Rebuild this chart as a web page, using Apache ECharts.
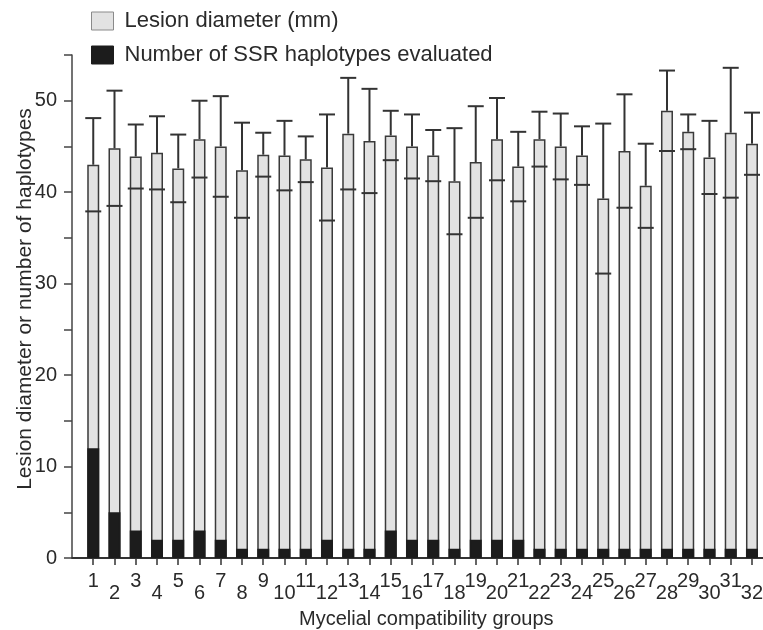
<!DOCTYPE html>
<html>
<head>
<meta charset="utf-8">
<script src="https://cdn.jsdelivr.net/npm/echarts@6/dist/echarts.min.js"></script>
<style>
  html, body { margin: 0; padding: 0; background: #fff; }
  #chart { width: 763px; height: 630px; }
</style>
</head>
<body>
<div id="chart"></div>
<script>
// Mycelial compatibility groups (x categories)
const groups = ['1','2','3','4','5','6','7','8','9','10','11','12','13','14','15','16',
                '17','18','19','20','21','22','23','24','25','26','27','28','29','30','31','32'];

// Mean lesion diameter (mm) per group
const lesionMean = [43.0, 44.8, 43.9, 44.3, 42.6, 45.8, 45.0, 42.4, 44.1, 44.0, 43.6, 42.7,
                    46.4, 45.6, 46.2, 45.0, 44.0, 41.2, 43.3, 45.8, 42.8, 45.8, 45.0, 44.0,
                    39.3, 44.5, 40.7, 48.9, 46.6, 43.8, 46.5, 45.3];

// Standard deviation of lesion diameter (error bars)
const lesionSd = [5.1, 6.3, 3.5, 4.0, 3.7, 4.2, 5.5, 5.2, 2.4, 3.8, 2.5, 5.8,
                  6.1, 5.7, 2.7, 3.5, 2.8, 5.8, 6.1, 4.5, 3.8, 3.0, 3.6, 3.2,
                  8.2, 6.2, 4.6, 4.4, 1.9, 4.0, 7.1, 3.4];

// Number of SSR haplotypes evaluated per group
const haplotypes = [12, 5, 3, 2, 2, 3, 2, 1, 1, 1, 1, 2, 1, 1, 3, 2,
                    2, 1, 2, 2, 2, 1, 1, 1, 1, 1, 1, 1, 1, 1, 1, 1];

// Labelled values on the y axis
const yTickLabels = [0, 10, 20, 30, 40, 50];

const FONT = 'Liberation Sans, Arial, Helvetica, sans-serif';
const INK = '#2a2a2a';

const positions = groups.map((g, i) => i + 1);
// Odd and even group labels sit on two staggered rows
const oddPositions = positions.filter(p => p % 2 === 1);
const evenPositions = positions.filter(p => p % 2 === 0);
const lesionData = positions.map((x, i) => [x, lesionMean[i]]);
const errorData = positions.map((x, i) => [x, lesionMean[i], lesionSd[i]]);
const haploData = positions.map((x, i) => [x, haplotypes[i]]);

const groupLabel = v => groups[Math.round(v) - 1];

const chart = echarts.init(document.getElementById('chart'), null, { renderer: 'canvas' });

chart.setOption({
  animation: false,
  backgroundColor: '#ffffff',
  textStyle: { fontFamily: FONT, color: INK },
  legend: {
    orient: 'vertical',
    left: 86,
    top: 5,
    icon: 'rect',
    itemWidth: 22,
    itemHeight: 18,
    itemGap: 12,
    selectedMode: false,
    textStyle: { fontFamily: FONT, fontSize: 22, color: INK, padding: [0, 0, 0, 6] },
    data: [
      { name: 'Lesion diameter (mm)', itemStyle: { color: '#e2e2e2', borderColor: '#8a8a8a', borderWidth: 1 } },
      { name: 'Number of SSR haplotypes evaluated', itemStyle: { color: '#1c1c1c', borderColor: '#1c1c1c', borderWidth: 1 } }
    ]
  },
  grid: { left: 72, top: 55, width: 690.6, height: 503, containLabel: false, outerBoundsMode: 'none' },
  xAxis: [
    {
      type: 'value',
      min: 0,
      max: 32.5,
      name: 'Mycelial compatibility groups',
      nameLocation: 'middle',
      nameGap: 51,
      nameMoveOverlap: false,
      nameTextStyle: { fontFamily: FONT, fontSize: 20, color: INK, padding: [0, 0, 0, 18] },
      splitLine: { show: false },
      axisLine: { show: true, onZero: false, lineStyle: { color: '#333', width: 2 } },
      axisTick: { show: true, length: 7, customValues: positions, lineStyle: { color: '#333', width: 1.5 } },
      axisLabel: {
        customValues: oddPositions,
        margin: 13,
        hideOverlap: false,
        fontFamily: FONT,
        fontSize: 20,
        color: INK,
        formatter: groupLabel
      }
    },
    {
      type: 'value',
      min: 0,
      max: 32.5,
      position: 'bottom',
      splitLine: { show: false },
      axisLine: { show: false },
      axisTick: { show: false },
      axisLabel: {
        customValues: evenPositions,
        margin: 25,
        hideOverlap: false,
        fontFamily: FONT,
        fontSize: 20,
        color: INK,
        formatter: groupLabel
      }
    }
  ],
  yAxis: {
    type: 'value',
    min: 0,
    max: 55,
    interval: 5,
    name: 'Lesion diameter or number of haplotypes',
    nameLocation: 'middle',
    nameGap: 36,
    nameMoveOverlap: false,
    nameRotate: 90,
    nameTextStyle: { fontFamily: FONT, fontSize: 21, color: INK, padding: [0, 0, 0, 15] },
    splitLine: { show: false },
    axisLine: { show: true, lineStyle: { color: '#444', width: 1.5 } },
    axisTick: { show: true, inside: false, length: 8, lineStyle: { color: '#444', width: 1.5 } },
    axisLabel: {
      margin: 15,
      fontFamily: FONT,
      fontSize: 20,
      color: INK,
      formatter: v => (yTickLabels.indexOf(v) >= 0 ? String(v) : '')
    }
  },
  series: [
    {
      name: 'Lesion diameter (mm)',
      type: 'bar',
      data: lesionData,
      barWidth: 12,
      barGap: '-100%',
      z: 2,
      itemStyle: { color: '#e2e2e2', borderColor: '#3a3a3a', borderWidth: 1.5 }
    },
    {
      name: 'Lesion SD',
      type: 'custom',
      data: errorData,
      encode: { x: 0, y: 1 },
      z: 3,
      renderItem: (params, api) => {
        const x = api.value(0);
        const m = api.value(1);
        const sd = api.value(2);
        const hi = api.coord([x, m + sd]);
        const mid = api.coord([x, m]);
        const lo = api.coord([x, m - sd]);
        const hw = 8;
        const style = { stroke: '#333', lineWidth: 2 };
        return {
          type: 'group',
          children: [
            { type: 'line', shape: { x1: hi[0], y1: hi[1], x2: mid[0], y2: mid[1] }, style },
            { type: 'line', shape: { x1: hi[0] - hw, y1: hi[1], x2: hi[0] + hw, y2: hi[1] }, style },
            { type: 'line', shape: { x1: lo[0] - hw, y1: lo[1], x2: lo[0] + hw, y2: lo[1] }, style }
          ]
        };
      }
    },
    {
      name: 'Number of SSR haplotypes evaluated',
      type: 'bar',
      data: haploData,
      barWidth: 12,
      barGap: '-100%',
      z: 4,
      itemStyle: { color: '#1c1c1c', borderColor: '#1c1c1c', borderWidth: 1.5 }
    }
  ]
});
</script>
</body>
</html>
